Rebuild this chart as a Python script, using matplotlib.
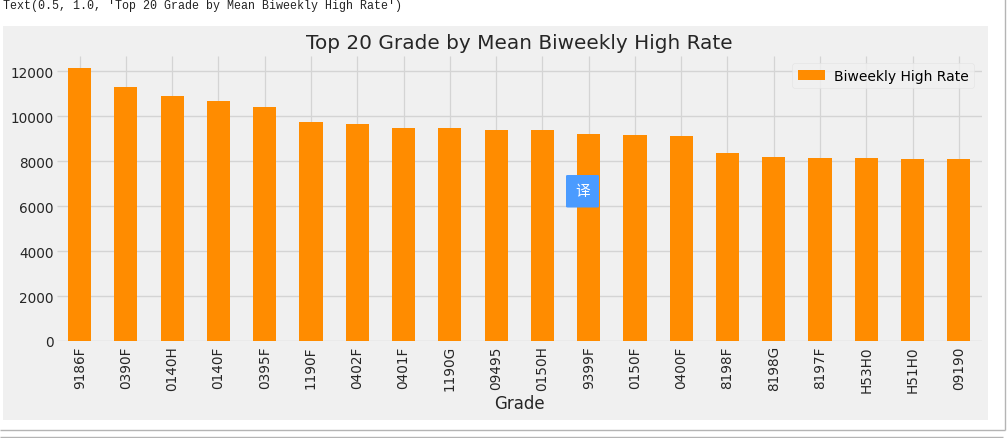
import matplotlib
matplotlib.use("Agg")
import matplotlib.pyplot as plt
from matplotlib.patches import Rectangle, FancyBboxPatch
from matplotlib.lines import Line2D
import pandas as pd

grades = ['9186F', '0390F', '0140H', '0140F', '0395F', '1190F', '0402F', '0401F', '1190G', '09495',
          '0150H', '9399F', '0150F', '0400F', '8198F', '8198G', '8197F', 'H53H0', 'H51H0', '09190']
high_rate = [12150, 11270, 10870, 10660, 10390, 9740, 9650, 9480, 9480, 9390,
             9380, 9180, 9170, 9130, 8370, 8170, 8130, 8120, 8110, 8070]
y_ticks = [0, 2000, 4000, 6000, 8000, 10000, 12000]
output_text = "Text(0.5, 1.0, 'Top 20 Grade by Mean Biweekly High Rate')"

W, H = 1008, 439

plt.style.use('fivethirtyeight')
fig = plt.figure(figsize=(W / 100, H / 100), dpi=100, facecolor='white')


# pixel box, measured from the top left of the picture
def px_rect(x0, y0, x1, y1, **kw):
    r = Rectangle((x0 / W, 1 - y1 / H), (x1 - x0) / W, (y1 - y0) / H, transform=fig.transFigure, **kw)
    fig.add_artist(r)
    return r


px_rect(3, 27, 988, 421, facecolor='#f0f0f0', edgecolor='none', zorder=-5)

# notebook cell borders
for xs, ys in [([0, 1005], [431, 431]), ([1005, 1005], [0, 431]), ([0, 1003], [438, 438])]:
    fig.add_artist(Line2D([x / W for x in xs], [1 - y / H for y in ys], color='#b4b4b4', lw=1,
                          transform=fig.transFigure))

ax = fig.add_axes([56.5 / W, 1 - 342 / H, (982 - 56.5) / W, (342 - 57) / H], facecolor='#f0f0f0')

df = pd.DataFrame({'Biweekly High Rate': high_rate}, index=grades)
df.plot(kind='bar', color='darkorange', ax=ax)

ax.set_yticks(y_ticks)
ax.set_ylim(0, 12667)
ax.tick_params(labelsize=9.8, colors='#262626', length=0, pad=2)
ax.tick_params(axis='x', pad=3)
ax.grid(True, axis='y', color='#d4d4d4', lw=1.0)
ax.grid(True, axis='x', color='#d4d4d4', lw=0.9)
ax.set_axisbelow(True)
ax.set_xlabel('Grade', fontsize=12, color='#262626', labelpad=2)
ax.set_title('Top 20 Grade by Mean Biweekly High Rate', fontsize=14.4, color='#262626', pad=6)
ax.legend(loc='upper right', bbox_to_anchor=(0.999, 1.0), fontsize=10, handletextpad=0.6,
          facecolor='#f0f0f0', edgecolor='#e2e2e2', framealpha=0.8)
for s in ax.spines.values():
    s.set_visible(False)

fig.text(3 / W, 1 - 6 / H, output_text, family='Liberation Mono', fontsize=8.35, color='#222222',
         ha='left', va='center')

# translate button overlaid on the page
btn = FancyBboxPatch((566 / W, 1 - 208.5 / H), 33 / W, 32.5 / H, boxstyle='round,pad=0,rounding_size=0.002',
                     transform=fig.transFigure, facecolor='#4a9bff', edgecolor='none', zorder=5)
fig.add_artist(btn)
fig.text(582.5 / W, 1 - 192 / H, '译', family=['Noto Sans CJK SC', 'DejaVu Sans'], fontsize=10.5,
         color='white', ha='center', va='center', zorder=6)

fig.savefig('out.png', dpi=100, facecolor='white')
